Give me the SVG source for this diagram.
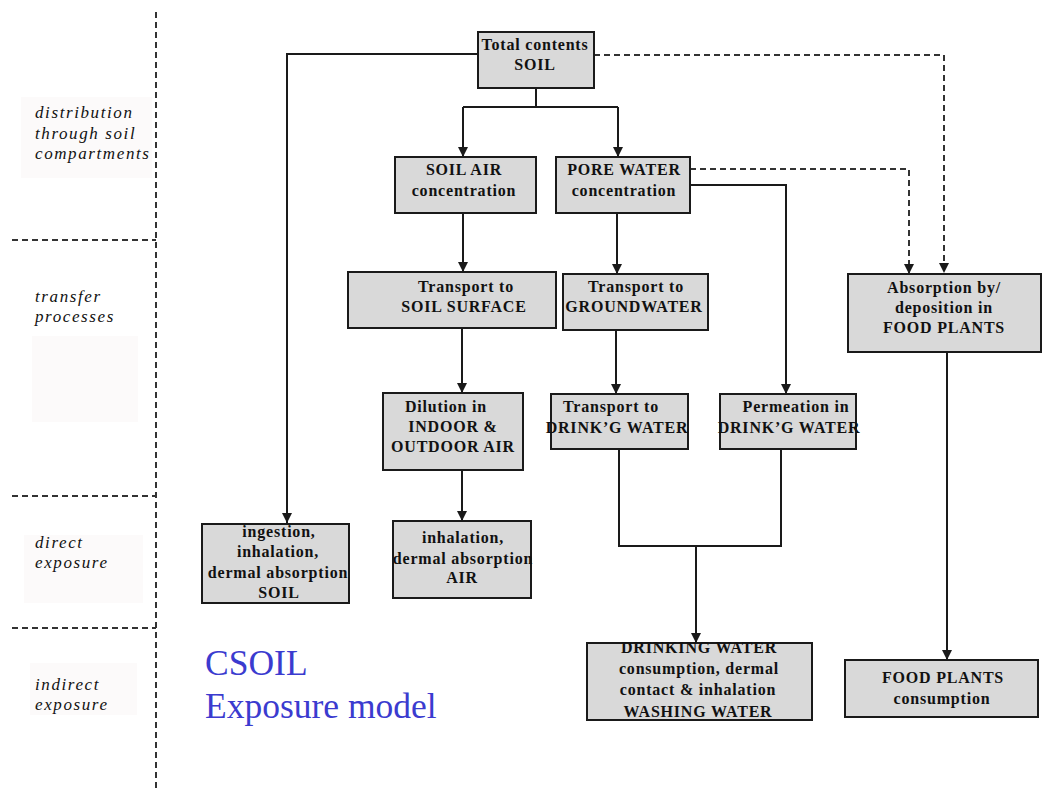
<svg xmlns="http://www.w3.org/2000/svg" width="1042" height="790" viewBox="0 0 1042 790">
<style>
.bx{fill:#d9d9d9;stroke:#1a1a1a;stroke-width:2}
.t{font-family:"Liberation Serif","Times New Roman",serif;font-weight:bold;font-size:16px;letter-spacing:0.8px;fill:#111;text-anchor:middle}
.lb{font-family:"Liberation Serif","Times New Roman",serif;font-style:italic;font-size:17px;letter-spacing:1.6px;fill:#111}
.sep{stroke:#333;stroke-width:2;stroke-dasharray:6 4;fill:none}
.ln{stroke:#1a1a1a;stroke-width:2;fill:none}
.dl{stroke:#333;stroke-width:2;stroke-dasharray:6 4;fill:none}
.pale{fill:#fcfafa}
.ttl{font-family:"Liberation Serif","Times New Roman",serif;font-size:35.5px;fill:#3b3bcf}
</style>
<defs>
<marker id="ah" markerUnits="userSpaceOnUse" markerWidth="10" markerHeight="10" refX="10" refY="5" orient="auto">
<path d="M0,0 L10,5 L0,10 z" fill="#1a1a1a"/>
</marker>
</defs>
<rect width="1042" height="790" fill="#ffffff"/>
<g id="bands">
<rect class="pale" x="21" y="97" width="131" height="81"/>
<rect class="pale" x="32" y="336" width="106" height="86"/>
<rect class="pale" x="24" y="535" width="119" height="68"/>
<rect class="pale" x="30" y="663" width="107" height="52"/>
<line class="sep" x1="156" y1="12" x2="156" y2="790"/>
<line class="sep" x1="12" y1="240" x2="156" y2="240"/>
<line class="sep" x1="12" y1="496" x2="156" y2="496"/>
<line class="sep" x1="12" y1="628" x2="156" y2="628"/>
<text class="lb" x="35" y="118">distribution</text>
<text class="lb" x="35" y="139">through soil</text>
<text class="lb" x="35" y="159">compartments</text>
<text class="lb" x="35" y="302">transfer</text>
<text class="lb" x="35" y="322">processes</text>
<text class="lb" x="35" y="548">direct</text>
<text class="lb" x="35" y="568">exposure</text>
<text class="lb" x="35" y="690">indirect</text>
<text class="lb" x="35" y="710">exposure</text>
</g>
<g id="title">
<text class="ttl" x="205" y="675">CSOIL</text>
<text class="ttl" x="205" y="718">Exposure model</text>
</g>
<g id="connectors">
<polyline class="ln" points="478,54 287,54 287,523" marker-end="url(#ah)"/>
<polyline class="ln" points="536,88 536,107"/>
<polyline class="ln" points="463,107 618,107"/>
<line class="ln" x1="463" y1="107" x2="463" y2="157" marker-end="url(#ah)"/>
<line class="ln" x1="618" y1="107" x2="618" y2="157" marker-end="url(#ah)"/>
<polyline class="dl" points="594,55 944,55 944,273" marker-end="url(#ah)"/>
<polyline class="dl" points="690,169 909,169 909,274" marker-end="url(#ah)"/>
<polyline class="ln" points="690,185 786,185 786,394" marker-end="url(#ah)"/>
<line class="ln" x1="463" y1="213" x2="463" y2="272" marker-end="url(#ah)"/>
<line class="ln" x1="617" y1="213" x2="617" y2="274" marker-end="url(#ah)"/>
<line class="ln" x1="462" y1="328" x2="462" y2="393" marker-end="url(#ah)"/>
<line class="ln" x1="616" y1="330" x2="616" y2="394" stroke="#444" marker-end="url(#ah)"/>
<line class="ln" x1="462" y1="470" x2="462" y2="521" marker-end="url(#ah)"/>
<polyline class="ln" points="619,449 619,546 781,546 781,449"/>
<line class="ln" x1="696" y1="546" x2="696" y2="643" marker-end="url(#ah)"/>
<line class="ln" x1="947" y1="352" x2="947" y2="660" marker-end="url(#ah)"/>
</g>
<g id="n-total">
<rect class="bx" x="478" y="32" width="116" height="56"/>
<text class="t" x="535" y="50">Total contents</text>
<text class="t" x="535" y="70">SOIL</text>
</g>
<g id="n-soilair">
<rect class="bx" x="395" y="157" width="141" height="56"/>
<text class="t" x="464" y="175">SOIL AIR</text>
<text class="t" x="464" y="196">concentration</text>
</g>
<g id="n-porewater">
<rect class="bx" x="556" y="157" width="134" height="56"/>
<text class="t" x="624" y="175">PORE WATER</text>
<text class="t" x="624" y="196">concentration</text>
</g>
<g id="n-soilsurface">
<rect class="bx" x="348" y="272" width="208" height="56"/>
<text class="t" x="466" y="292">Transport to</text>
<text class="t" x="464" y="312">SOIL SURFACE</text>
</g>
<g id="n-groundwater">
<rect class="bx" x="563" y="274" width="145" height="56"/>
<text class="t" x="636" y="292">Transport to</text>
<text class="t" x="634" y="312">GROUNDWATER</text>
</g>
<g id="n-foodplants">
<rect class="bx" x="848" y="274" width="193" height="78"/>
<text class="t" x="944" y="293">Absorption by/</text>
<text class="t" x="944" y="313">deposition in</text>
<text class="t" x="944" y="333">FOOD PLANTS</text>
</g>
<g id="n-dilution">
<rect class="bx" x="383" y="393" width="140" height="77"/>
<text class="t" x="446" y="412">Dilution in</text>
<text class="t" x="453" y="432">INDOOR &amp;</text>
<text class="t" x="453" y="452">OUTDOOR AIR</text>
</g>
<g id="n-transportdrink">
<rect class="bx" x="551" y="394" width="137" height="55"/>
<text class="t" x="611" y="412">Transport to</text>
<text class="t" x="617" y="433">DRINK’G WATER</text>
</g>
<g id="n-permeation">
<rect class="bx" x="720" y="394" width="136" height="55"/>
<text class="t" x="796" y="412">Permeation in</text>
<text class="t" x="789" y="433">DRINK’G WATER</text>
</g>
<g id="n-soilexp">
<rect class="bx" x="202" y="524" width="147" height="79"/>
<text class="t" x="279" y="537">ingestion,</text>
<text class="t" x="278" y="557">inhalation,</text>
<text class="t" x="278" y="578">dermal absorption</text>
<text class="t" x="279" y="598">SOIL</text>
</g>
<g id="n-airexp">
<rect class="bx" x="393" y="521" width="138" height="77"/>
<text class="t" x="463" y="543">inhalation,</text>
<text class="t" x="463" y="564">dermal absorption</text>
<text class="t" x="462" y="583">AIR</text>
</g>
<g id="n-drinkwater">
<rect class="bx" x="587" y="643" width="225" height="77"/>
<text class="t" x="699" y="653">DRINKING WATER</text>
<text class="t" x="699" y="674">consumption, dermal</text>
<text class="t" x="698" y="695">contact &amp; inhalation</text>
<text class="t" x="698" y="717">WASHING WATER</text>
</g>
<g id="n-foodcons">
<rect class="bx" x="845" y="660" width="193" height="57"/>
<text class="t" x="943" y="683">FOOD PLANTS</text>
<text class="t" x="942" y="704">consumption</text>
</g>
</svg>
